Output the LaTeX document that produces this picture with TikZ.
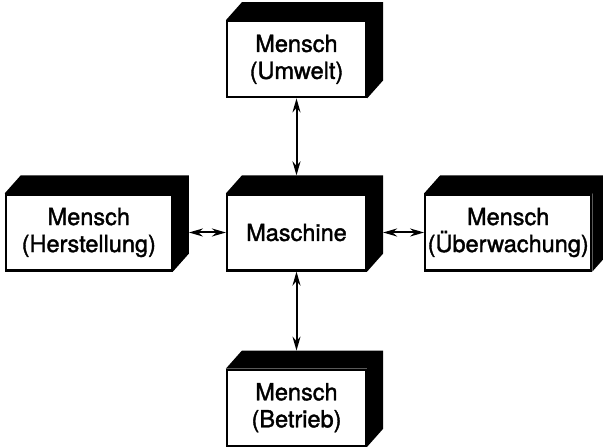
\documentclass[tikz,border=0pt]{standalone}
\usepackage{fontspec}
\newfontfamily\boxfont[FakeBold=1.6]{TeX Gyre Heros}
\usetikzlibrary{arrows.meta,positioning,calc}

\tikzset{
	box/.style={draw,line width=2.2pt,fill=white,minimum height=76pt,inner sep=0pt,align=center,font=\boxfont\fontsize{23.5}{27}\selectfont},
	widebox/.style={box,minimum width=166pt},
	narrowbox/.style={box,minimum width=139pt},
	link/.style={<->,line width=2pt}
}

\begin{document}
\begin{tikzpicture}[>={Stealth[length=14pt,width=8pt]},x=1pt,y=1pt]
	\useasboundingbox (0,0) rectangle (603,447);
	\node (maschine) [narrowbox] at (296.5,214.5) {Maschine};
	\node (umwelt) [narrowbox,above=95pt of maschine] {Mensch\\(Umwelt)};
	\node (betrieb) [narrowbox,below=97pt of maschine] {Mensch\\(Betrieb)};
	\node (herstellung) [widebox,left=53pt of maschine] {Mensch\\(Herstellung)};
	\node (ueberwachung) [widebox,right=57pt of maschine] {Mensch\\(Überwachung)};
	\foreach \n in {maschine,umwelt,betrieb,herstellung,ueberwachung}
		\fill (\n.north west) -- ++(16,18) -- ([shift={(16,18)}]\n.north east) -- ([shift={(16,18)}]\n.south east) -- (\n.south east) -- (\n.north east) -- cycle;
	\draw [link] (umwelt) -- ([yshift=18pt]maschine.north);
	\draw [link] (maschine) -- ([yshift=18pt]betrieb.north);
	\draw [link] ([xshift=16pt]herstellung.east) -- (maschine);
	\draw [link] ([xshift=16pt]maschine.east) -- (ueberwachung);
\end{tikzpicture}
\end{document}
